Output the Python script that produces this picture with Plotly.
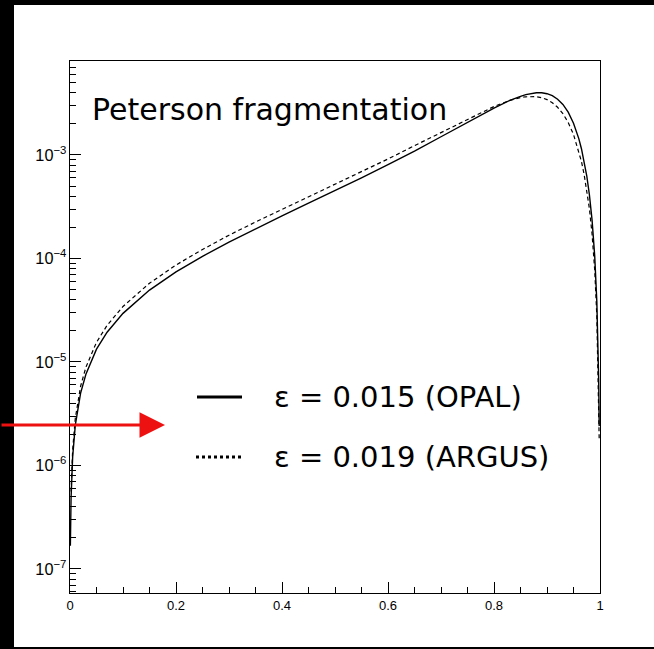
import plotly.graph_objects as go

# Peterson fragmentation function D(z), two epsilon values
z_opal = [0.0007, 0.002, 0.005, 0.01, 0.02, 0.03, 0.05, 0.07, 0.1, 0.15, 0.2, 0.25,
          0.3, 0.35, 0.4, 0.45, 0.5, 0.55, 0.6, 0.65, 0.7, 0.75, 0.8, 0.83, 0.84, 0.85,
          0.86, 0.87, 0.88, 0.89, 0.9, 0.91, 0.92, 0.93, 0.94, 0.95, 0.96, 0.965, 0.97,
          0.975, 0.98, 0.985, 0.99, 0.994, 0.9975, 0.9985]
d_opal = [1.68e-7, 4.82e-7, 1.21e-6, 2.45e-6, 5.0e-6, 7.6e-6, 1.33e-5, 1.94e-5, 2.95e-5,
          4.95e-5, 7.43e-5, 1.05e-4, 1.44e-4, 1.94e-4, 2.58e-4, 3.42e-4, 4.52e-4, 6.02e-4,
          8.07e-4, 1.09e-3, 1.50e-3, 2.07e-3, 2.84e-3, 3.37e-3, 3.54e-3, 3.69e-3,
          3.83e-3, 3.93e-3, 3.99e-3, 3.99e-3, 3.91e-3, 3.74e-3, 3.46e-3, 3.08e-3,
          2.59e-3, 2.03e-3, 1.44e-3, 1.15e-3, 8.8e-4, 6.3e-4, 4.13e-4, 2.36e-4, 1.06e-4,
          3.85e-5, 6.7e-6, 2.4e-6]

z_argus = [0.002, 0.005, 0.01, 0.02, 0.03, 0.05, 0.07, 0.1, 0.15, 0.2, 0.25, 0.3, 0.35,
           0.4, 0.45, 0.5, 0.55, 0.6, 0.65, 0.7, 0.75, 0.8, 0.83, 0.84, 0.85, 0.86, 0.87,
           0.88, 0.89, 0.9, 0.91, 0.92, 0.93, 0.94, 0.95, 0.96, 0.965, 0.97, 0.975, 0.98,
           0.985, 0.99, 0.994, 0.9975, 0.9985]
d_argus = [5.6e-7, 1.41e-6, 2.86e-6, 5.83e-6, 8.9e-6, 1.55e-5, 2.26e-5, 3.44e-5, 5.77e-5,
           8.65e-5, 1.22e-4, 1.68e-4, 2.25e-4, 2.98e-4, 3.94e-4, 5.2e-4, 6.88e-4, 9.15e-4,
           1.23e-3, 1.65e-3, 2.23e-3, 2.94e-3, 3.37e-3, 3.49e-3, 3.59e-3, 3.65e-3, 3.68e-3,
           3.66e-3, 3.58e-3, 3.43e-3, 3.20e-3, 2.89e-3, 2.51e-3, 2.06e-3, 1.58e-3, 1.09e-3,
           8.65e-4, 6.5e-4, 4.65e-4, 3.03e-4, 1.73e-4, 7.75e-5, 2.8e-5, 4.9e-6, 1.75e-6]

title_text = "Peterson fragmentation"
label_opal = "\u03b5 = 0.015 (OPAL)"
label_argus = "\u03b5 = 0.019 (ARGUS)"

W, H = 654, 649
ML, MR, MT, MB = 70, 54, 61, 56
PW, PH = W - ML - MR, H - MT - MB


def px(x):
    return (x - ML) / PW


def py(y):
    return 1 - (y - MT) / PH


fig = go.Figure()
fig.add_trace(go.Scatter(x=z_opal, y=d_opal, mode="lines",
                         line=dict(color="black", width=1.4), showlegend=False))
fig.add_trace(go.Scatter(x=z_argus, y=d_argus, mode="lines",
                         line=dict(color="black", width=1.2, dash="4px,3px"), showlegend=False))

text_font = dict(family="DejaVu Sans", size=29, color="black")
fig.add_annotation(xref="paper", yref="paper", x=px(90), y=py(110), text=title_text,
                   showarrow=False, xanchor="left", yanchor="middle",
                   font=dict(family="DejaVu Sans", size=30, color="black"))
fig.add_annotation(xref="paper", yref="paper", x=px(272), y=py(397), text=label_opal,
                   showarrow=False, xanchor="left", yanchor="middle", font=text_font)
fig.add_annotation(xref="paper", yref="paper", x=px(272), y=py(457), text=label_argus,
                   showarrow=False, xanchor="left", yanchor="middle", font=text_font)

# legend line samples
fig.add_shape(type="line", xref="paper", yref="paper", x0=px(197), x1=px(242),
              y0=py(397), y1=py(397), line=dict(color="black", width=3))
fig.add_shape(type="line", xref="paper", yref="paper", x0=px(196), x1=px(242),
              y0=py(457), y1=py(457), line=dict(color="black", width=3, dash="3px,3px"))

# red pointer arrow
fig.add_annotation(xref="paper", yref="paper", x=px(165), y=py(425), ax=-165, ay=0,
                   text="", showarrow=True, arrowhead=2, arrowsize=1.7, arrowwidth=3,
                   arrowcolor="#ee1111", standoff=0)

# black page edges
edge = dict(type="rect", xref="paper", yref="paper", fillcolor="black",
            line=dict(width=0), layer="below")
fig.add_shape(**edge, x0=px(0), x1=px(14), y0=py(H), y1=py(0))
fig.add_shape(**edge, x0=px(0), x1=px(W), y0=py(5), y1=py(0))
fig.add_shape(**edge, x0=px(0), x1=px(W), y0=py(H), y1=py(647))

tick_font = dict(family="Liberation Sans", size=13, color="black")
fig.update_layout(
    width=W, height=H, margin=dict(l=ML, r=MR, t=MT, b=MB),
    paper_bgcolor="white", plot_bgcolor="white",
    xaxis=dict(range=[0, 1], tick0=0, dtick=0.2, ticks="inside", ticklen=11,
               tickcolor="black", showgrid=False, zeroline=False, showline=True,
               linecolor="black", linewidth=1, mirror=True, tickfont=tick_font,
               minor=dict(dtick=0.05, ticks="inside", ticklen=6, tickcolor="black",
                          showgrid=False)),
    yaxis=dict(type="log", range=[-7.232, -2.092], dtick=1, ticks="inside", ticklen=11,
               tickcolor="black", showgrid=False, zeroline=False, showline=True,
               linecolor="black", linewidth=1, mirror=True, exponentformat="power",
               tickfont=tick_font,
               minor=dict(ticks="inside", ticklen=6, tickcolor="black", showgrid=False)),
)

fig.write_html("out.html")
